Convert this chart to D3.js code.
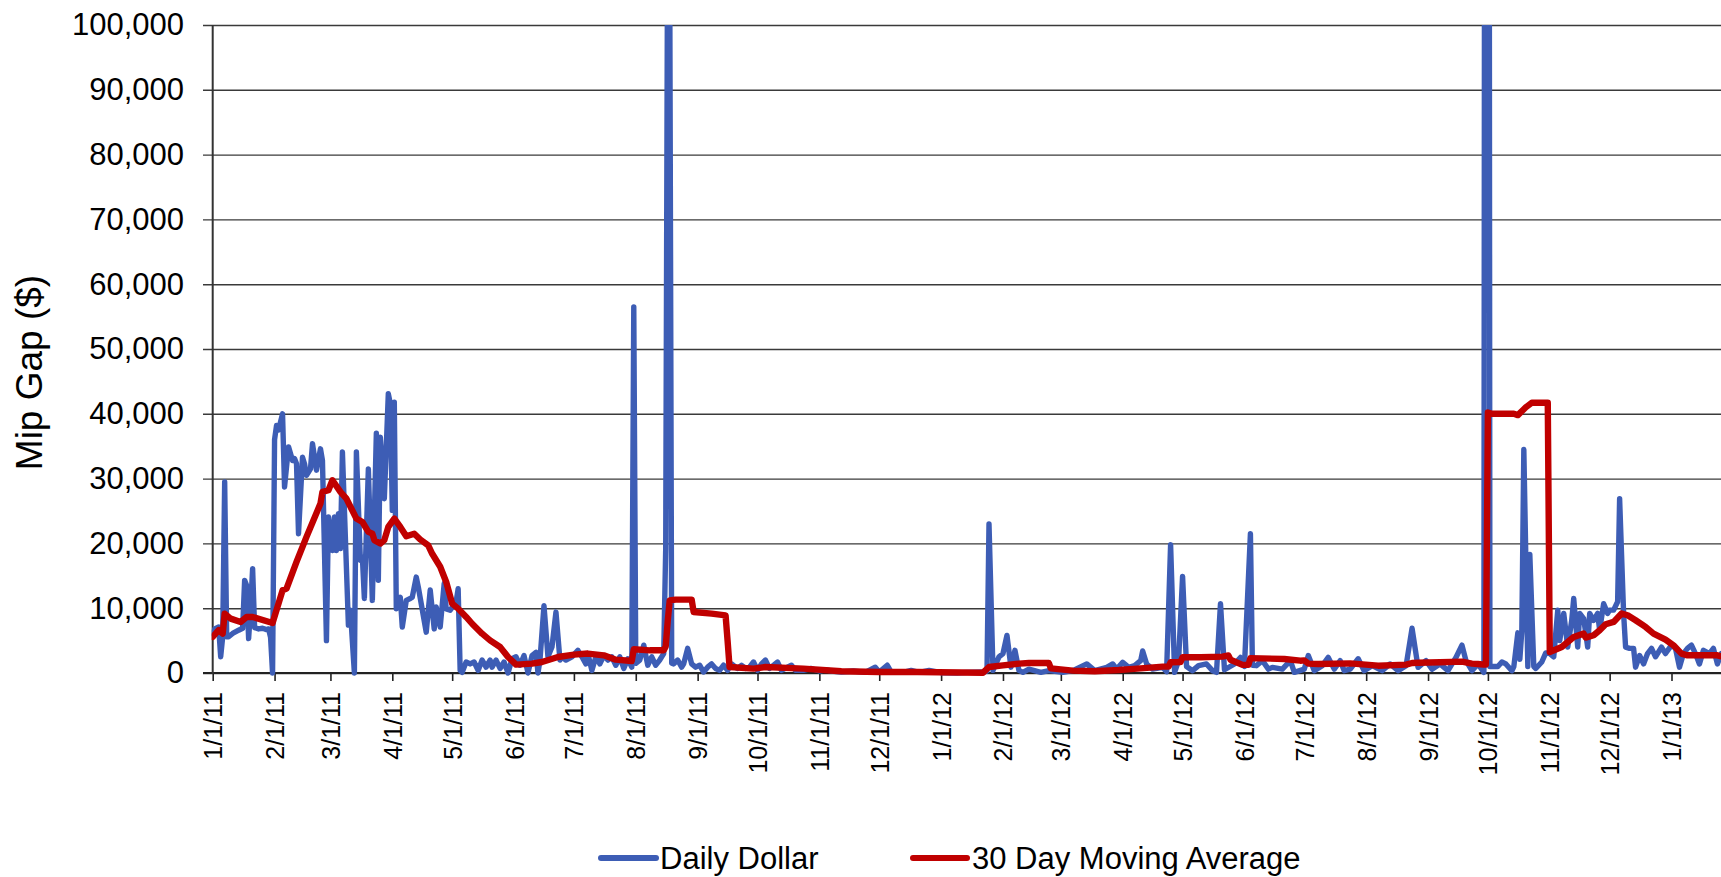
<!DOCTYPE html>
<html><head><meta charset="utf-8">
<script src="https://cdn.jsdelivr.net/npm/d3@7"></script>
<style>html,body{margin:0;padding:0;background:#fff;}svg{display:block;font-family:"Liberation Sans",Arial,Helvetica,sans-serif;}</style>
</head><body><svg id="chart" width="1721" height="877"></svg>
<script>
// ---- data (days counted from 1/1/11) ----
const dailyDay = [0,1,3,4,5,6,7,8,10,13,15,16,17,18,19,20,21,22,23,25,27,28,29,30,31,32,33,35,36,38,40,41,42,43,45,46,47,49,50,52,54,55,57,58,60,61,62,63,64,65,68,69,71,72,74,75,76,78,80,82,83,84,86,88,89,90,91,92,94,95,97,99,100,102,103,107,109,111,112,114,116,117,119,122,123,124,125,127,129,131,133,135,137,139,140,142,144,146,148,150,152,154,156,158,160,162,163,164,166,168,170,172,174,175,177,180,183,185,187,188,190,192,194,196,198,200,202,204,206,208,210,211,212,214,216,218,220,222,224,226,227,228,229,230,231,233,235,236,238,240,242,244,246,248,250,252,254,256,258,260,262,263,265,267,269,271,273,275,277,279,281,283,285,288,290,292,296,300,304,307,311,315,321,327,332,334,338,340,346,350,354,359,365,373,378,386,388,389,391,394,396,398,400,402,404,406,409,415,419,426,431,438,442,448,451,453,456,459,462,465,466,468,471,476,478,480,482,484,486,488,491,494,498,501,503,505,507,512,515,517,520,521,523,526,529,531,536,540,542,547,549,552,556,559,562,565,567,570,574,577,581,586,590,594,598,601,604,608,611,615,619,623,626,628,631,634,637,638,639,640,644,646,648,651,652,654,655,656,657,659,660,662,663,666,668,670,672,674,675,677,679,681,682,684,685,687,689,690,692,694,695,697,699,700,702,704,705,707,708,710,712,713,715,717,719,721,723,726,728,731,733,735,737,739,741,743,745,747,750,752,754,756];
const dailyValue = [6070,6800,7100,2500,5560,29500,5600,5600,6100,6600,6900,14300,13500,5300,10000,16100,7000,6900,6800,6900,6700,6800,5500,0,36000,38200,37500,40000,28700,34900,32800,33100,32300,21500,33300,32300,30500,31500,35400,31300,34600,32800,5000,24100,18900,24100,18900,24600,19200,34100,7400,9700,0,34100,17400,17900,11500,31500,11200,37000,14300,36400,26900,43100,41600,25100,41800,9900,11700,7100,11200,11500,11700,14800,13300,6300,12800,6800,10200,7100,13800,9900,9700,11000,13000,400,100,1700,1400,1700,400,2000,900,2000,900,2000,700,1700,0,2200,2500,1200,2700,0,2700,3200,0,2000,10400,2500,4000,9400,2000,2500,2000,2500,3500,2500,1400,3000,400,2500,1400,2700,2000,2500,1200,2500,700,2200,900,56500,1500,2000,4300,1200,2500,1200,2000,3000,19200,120000,110000,1500,1400,2000,900,1400,3800,1400,900,1200,150,900,1400,700,400,1200,400,1400,900,700,1200,700,900,1700,400,1400,2000,700,1200,1700,400,900,1200,400,400,700,300,500,250,150,300,100,900,150,1200,150,100,400,100,400,50,0,100,150,300,23000,400,2500,3000,5800,900,3500,400,100,600,100,360,100,360,1400,360,870,1400,600,1650,870,1130,1900,3400,1400,600,870,200,19800,100,1900,14900,1000,360,1130,1400,360,100,10700,500,1390,2400,1000,21500,1200,1130,1900,600,870,600,1900,100,600,2700,360,1130,2400,600,1900,360,600,2200,360,1130,360,1400,360,1130,6900,870,1900,600,1400,360,2400,4300,1900,360,1400,100,390000,390000,1000,1000,1700,1400,350,1000,6200,2100,6500,34500,1000,18300,1000,700,1700,3100,3000,2500,9700,5000,9200,4000,8100,11500,4000,9200,8400,4000,9200,8100,9200,6600,10700,9200,9700,9700,11000,26900,9200,4000,3800,3800,900,2700,1400,3000,3800,2500,4000,3000,4300,3800,900,3000,3800,4300,3000,1400,3500,3000,3800,1400,3000];
const avgDay = [0,3,5,6,9,14,17,20,30,35,37,42,47,54,55,58,60,64,67,72,75,78,80,81,84,86,88,91,94,97,101,104,108,110,114,117,120,123,127,130,135,139,144,148,152,160,165,173,181,188,196,202,210,211,219,226,227,228,229,232,240,241,250,257,258,259,271,277,296,315,334,353,386,389,396,404,409,419,420,431,442,454,465,476,479,480,485,486,495,506,509,510,516,519,520,537,545,547,549,554,570,584,598,601,604,615,626,631,634,637,638,639,641,652,654,657,658,661,669,670,676,682,687,688,692,695,698,702,706,709,713,718,722,728,732,736,739,746,754,756];
const avgValue = [5560,6600,6070,9160,8390,7870,8650,8650,7720,12760,13020,17140,21000,26150,27950,28200,29750,27950,26900,23830,23300,21770,21500,20500,19970,20500,22540,23830,22540,21100,21500,20600,19700,18400,16400,14050,10700,9930,8650,7600,6070,5040,4010,2470,1300,1440,1700,2470,2830,3000,2730,2060,1850,3660,3500,3500,4100,8000,11200,11330,11330,9420,9170,8900,5000,930,670,930,670,260,150,150,50,930,1180,1440,1540,1540,720,360,260,460,720,980,1000,1650,1700,2450,2420,2520,2700,2050,1250,1250,2300,2160,1900,1950,1450,1390,1490,1130,1290,1550,1590,1650,1750,1450,1390,1290,1300,40200,40000,40000,39800,40700,41000,41700,41700,3250,4020,5560,6080,5460,5820,6590,7520,7880,9170,8910,8140,7110,6080,5150,4270,2990,2730,2730,2730,2580];
const yTickValues = [0,10000,20000,30000,40000,50000,60000,70000,80000,90000,100000];
const seriesNames = ["Daily Dollar","30 Day Moving Average"];
const yTitle = "Mip Gap ($)";

// ---- layout ----
const C = {blue:"#3D5DB5", red:"#C00000", grid:"#3a3a3a"};
const L = 212.7, R = 1721, T = 25, B = 673;
const startDate = new Date(Date.UTC(2011,0,1));
const toDate = d => d3.utcDay.offset(startDate, d);

const x = d3.scaleUtc().domain([startDate, new Date(Date.UTC(2013,0,1))]).range([L, 1671.5]);
const y = d3.scaleLinear().domain([0,100000]).range([B, T]);

const svg = d3.select("#chart");
svg.append("rect").attr("width",1721).attr("height",877).attr("fill","#fff");

// y axis with gridlines
const gy = svg.append("g").attr("transform","translate(203,0)")
  .call(d3.axisLeft(y).tickValues(yTickValues).tickFormat(d3.format(","))
        .tickSizeInner(-(R-203)).tickSizeOuter(0).tickPadding(19));
gy.select(".domain").remove();
gy.selectAll(".tick line").attr("stroke",C.grid).attr("stroke-width",1.4);
gy.selectAll(".tick text").attr("font-size",31).attr("fill","#000")
  .attr("font-family",'"Liberation Sans",Arial,sans-serif');

// x axis
const gx = svg.append("g").attr("transform",`translate(0,${B})`)
  .call(d3.axisBottom(x).ticks(d3.utcMonth.every(1)).tickFormat(d3.utcFormat("%-m/%-d/%y"))
        .tickSizeInner(8).tickSizeOuter(0));
gx.select(".domain").remove();
gx.selectAll(".tick line").attr("stroke","#222").attr("stroke-width",1.6);
gx.selectAll(".tick text").attr("font-size",25).attr("fill","#000")
  .attr("font-family",'"Liberation Sans",Arial,sans-serif')
  .attr("transform","rotate(-90)").attr("text-anchor","end")
  .attr("x",-19).attr("y",0).attr("dy","0.36em");

// zero line and left axis line
svg.append("line").attr("x1",203).attr("x2",R).attr("y1",y(0)).attr("y2",y(0))
  .attr("stroke","#222").attr("stroke-width",1.8);
svg.append("line").attr("x1",L).attr("x2",L).attr("y1",T).attr("y2",B+1)
  .attr("stroke","#333").attr("stroke-width",2);

// clip
svg.append("clipPath").attr("id","plotclip").append("rect")
  .attr("x",L-1).attr("y",T).attr("width",R-L+1).attr("height",B-T+20);

const daily = dailyDay.map((d,i)=>({date:toDate(d), v:dailyValue[i]}));
const avg = avgDay.map((d,i)=>({date:toDate(d), v:avgValue[i]}));
const line = d3.line().x(d=>x(d.date)).y(d=>y(d.v));

const gp = svg.append("g").attr("clip-path","url(#plotclip)");
gp.append("path").datum(daily).attr("d",line).attr("fill","none")
  .attr("stroke",C.blue).attr("stroke-width",5.4).attr("stroke-linejoin","round").attr("stroke-linecap","round");
gp.append("path").datum(avg).attr("d",line).attr("fill","none")
  .attr("stroke",C.red).attr("stroke-width",6.4).attr("stroke-linejoin","round").attr("stroke-linecap","round");

// y title
svg.append("text").attr("transform","translate(42,372.5) rotate(-90)")
  .attr("text-anchor","middle").attr("font-size",37).attr("fill","#000").text(yTitle);

// legend
const legend = [{name:seriesNames[0], color:C.blue, x1:601, x2:656, tx:660},
                {name:seriesNames[1], color:C.red, x1:913, x2:967, tx:972}];
const lg = svg.append("g");
legend.forEach(l=>{
  lg.append("line").attr("x1",l.x1).attr("x2",l.x2).attr("y1",858).attr("y2",858)
    .attr("stroke",l.color).attr("stroke-width",6).attr("stroke-linecap","round");
  lg.append("text").attr("x",l.tx).attr("y",858).attr("dy","0.36em")
    .attr("font-size",31).attr("fill","#000").text(l.name);
});
</script></body></html>
